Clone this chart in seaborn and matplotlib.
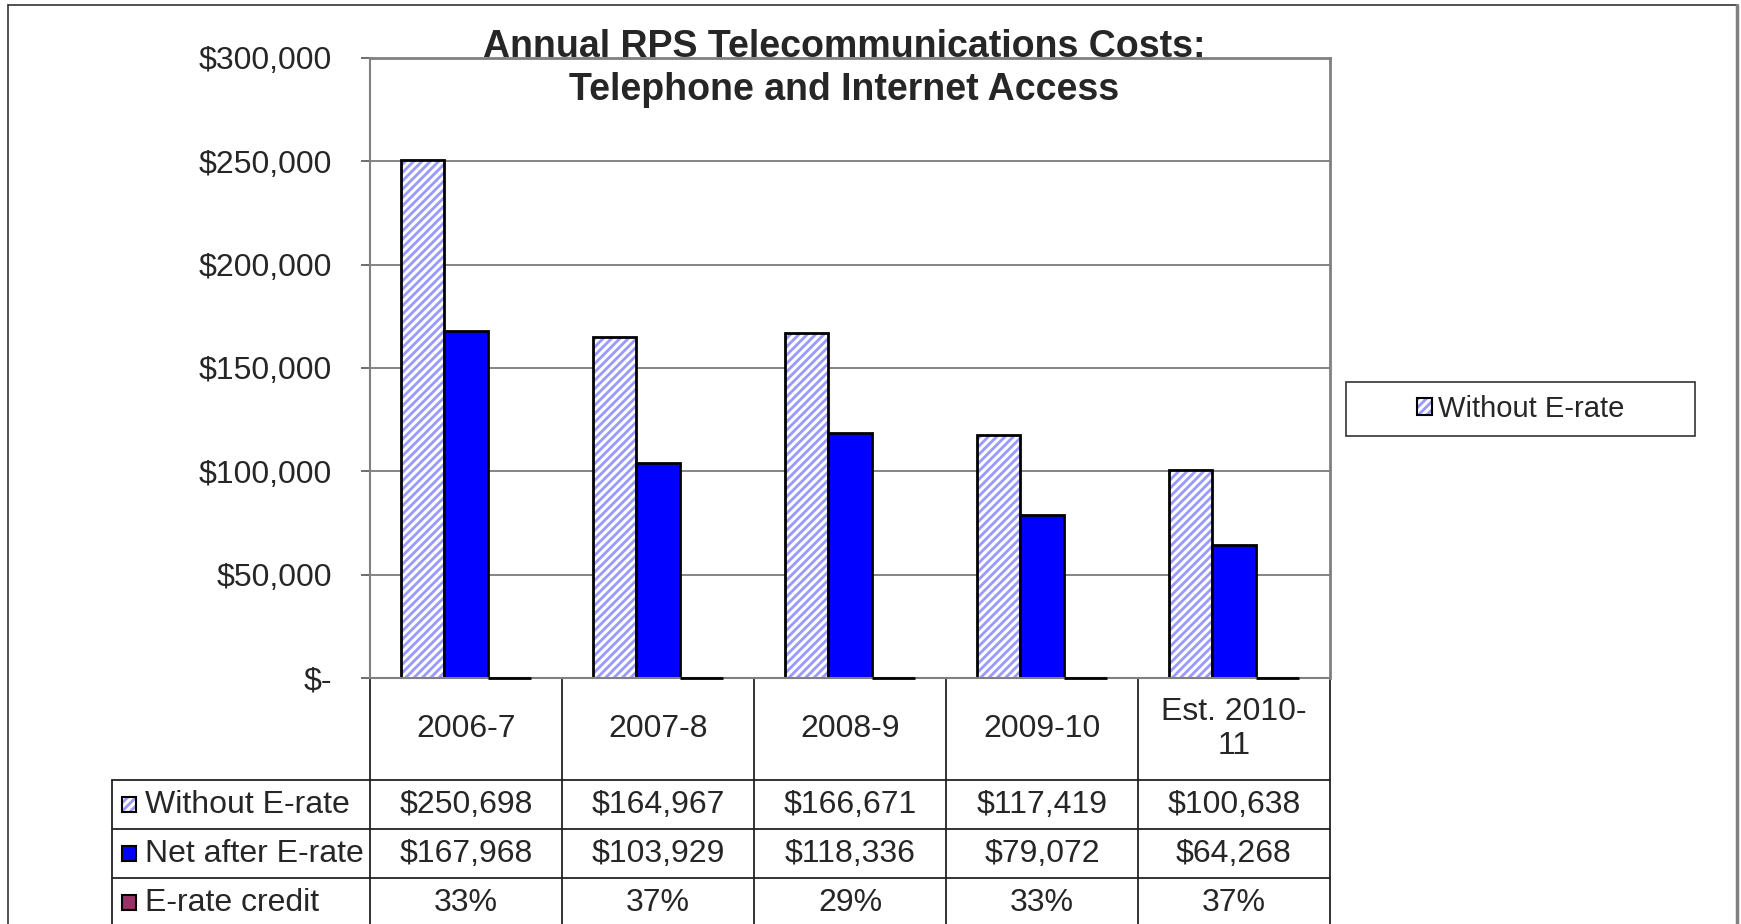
import pandas as pd
import matplotlib
matplotlib.use("Agg")
import matplotlib.pyplot as plt
import matplotlib.transforms as mtransforms
from matplotlib.patches import Rectangle
from matplotlib.lines import Line2D
import seaborn as sns

# Data
years = ["2006-7", "2007-8", "2008-9", "2009-10", "Est. 2010-\n11"]
without_erate = [250698, 164967, 166671, 117419, 100638]
net_after_erate = [167968, 103929, 118336, 79072, 64268]
erate_credit = [0.33, 0.37, 0.29, 0.33, 0.37]
series_names = ["Without E-rate", "Net after E-rate", "E-rate credit"]

HATCH_BLUE = "#9999FF"
BLUE = "#0000FF"
MAROON = "#993366"

sns.set_theme(style="white")
plt.rcParams["font.family"] = ["Liberation Sans", "DejaVu Sans"]
plt.rcParams["hatch.linewidth"] = 2.0

df = pd.DataFrame({
    "year": years * 3,
    "series": [series_names[0]] * 5 + [series_names[1]] * 5 + [series_names[2]] * 5,
    "value": without_erate + net_after_erate + erate_credit,
})

fig = plt.figure(figsize=(17.41, 9.24), dpi=100)
ax = fig.add_axes([0.2125, 0.2662, 0.5514, 0.6713])

sns.barplot(data=df, x="year", y="value", hue="series", hue_order=series_names,
            palette=["white", BLUE, MAROON], width=0.675, gap=0, saturation=1,
            edgecolor="black", linewidth=2, legend=False, ax=ax)

# hatched series: blue stripes on white, black outline drawn on top
for p in ax.containers[0]:
    p.set_hatch("////")
    p.set_edgecolor(HATCH_BLUE)
    p.set_linewidth(0)
    ax.add_patch(Rectangle(p.get_xy(), p.get_width(), p.get_height(),
                           fill=False, edgecolor="black", linewidth=2, zorder=p.get_zorder() + 0.1))

# the percentage series is ~0 on this scale: keep its outline visible over the axis line
for p in ax.containers[2]:
    p.set_clip_on(False)
    p.set_zorder(3)

ax.set_xlim(-0.5, len(years) - 0.5)
ax.set_ylim(0, 300000)
ax.set_yticks(range(0, 300001, 50000))
ax.set_yticklabels([f"${v:,.0f}" if v else "$-" for v in range(0, 300001, 50000)], fontsize=23)
ax.set_xticks([])
ax.set_xlabel("")
ax.set_ylabel("")
ax.set_axisbelow(True)
ax.yaxis.grid(True, color="#707070", linewidth=1.2)
ax.tick_params(axis="y", left=True, length=6.5, width=1.2, color="#555555", pad=21)
for side in ["left", "right", "top", "bottom"]:
    ax.spines[side].set_color("#808080")
    ax.spines[side].set_linewidth(2 if side in ("right", "top") else 1.5)

# title
fig.text(0.4848, 1 - 57 / 924, "Annual RPS Telecommunications Costs:", ha="center", va="baseline",
         fontsize=27, fontweight="bold")
fig.text(0.4848, 1 - 100.5 / 924, "Telephone and Internet Access", ha="center", va="baseline",
         fontsize=27, fontweight="bold")

# data table below the axes
tr = ax.get_xaxis_transform()
trf = mtransforms.blended_transform_factory(fig.transFigure, ax.transAxes)
row_edges = [0, -0.1644, -0.2434, -0.3224, -0.45]
lab_left = 112 / 1741
line_kw = dict(color="#222222", linewidth=1.3, clip_on=False)

for i in range(len(years) + 1):
    ax.add_line(Line2D([i - 0.5, i - 0.5], [0, row_edges[-1]], transform=tr, **line_kw))
for y in row_edges[1:4]:
    fig.add_artist(Line2D([lab_left, 0.7639], [y, y], transform=trf, **line_kw))
fig.add_artist(Line2D([lab_left, lab_left], [row_edges[1], row_edges[-1]], transform=trf, **line_kw))

for i, yr in enumerate(years):
    ax.text(i, (row_edges[0] + row_edges[1]) / 2, yr, transform=tr, ha="center", va="center",
            fontsize=23, linespacing=1.2)

rows = [
    [f"${v:,.0f}" for v in without_erate],
    [f"${v:,.0f}" for v in net_after_erate],
    [f"{v:.0%}" for v in erate_credit],
]
row_centers = [(row_edges[k] + row_edges[k + 1]) / 2 for k in range(1, 4)]
row_centers[2] = (row_edges[3] + (-0.4014)) / 2
key_faces = ["white", BLUE, MAROON]
for k, (name, vals, yc) in enumerate(zip(series_names, rows, row_centers)):
    for i, v in enumerate(vals):
        ax.text(i, yc, v, transform=tr, ha="center", va="center", fontsize=23)
    fig.text(145 / 1741, 0, name, transform=trf, ha="left", va="center", fontsize=23).set_y(yc)
    box = ((122 / 1741, yc - 0.0115), 14 / 1741, 0.023)
    if k == 0:
        fig.add_artist(Rectangle(*box, transform=trf, facecolor="white", edgecolor=HATCH_BLUE,
                                 hatch="////", linewidth=0, clip_on=False))
        fig.add_artist(Rectangle(*box, transform=trf, fill=False, edgecolor="black",
                                 linewidth=1.5, clip_on=False))
    else:
        fig.add_artist(Rectangle(*box, transform=trf, facecolor=key_faces[k], edgecolor="black",
                                 linewidth=1.5, clip_on=False))

# legend (only the first series, like the original)
fig.add_artist(Rectangle((0.7731, 0.5281), 0.2005, 0.0585, transform=fig.transFigure,
                         fill=False, edgecolor="#333333", linewidth=1.2))
h_fill = Rectangle((0, 0), 1, 1, facecolor="white", edgecolor=HATCH_BLUE, hatch="////", linewidth=0)
h_edge = Rectangle((0, 0), 1, 1, fill=False, edgecolor="black", linewidth=1.5)
fig.legend([(h_fill, h_edge)], ["Without E-rate"], loc="center", bbox_to_anchor=(0.8734, 0.5574),
           bbox_transform=fig.transFigure, frameon=False, fontsize=21,
           handlelength=0.5, handleheight=0.5, handletextpad=0.2)

# outer chart frame
fig.add_artist(Line2D([8 / 1741, 8 / 1741], [-0.1, 1 - 5 / 924], transform=fig.transFigure,
                      color="#333333", linewidth=1.2))
fig.add_artist(Line2D([8 / 1741, 1737 / 1741], [1 - 5 / 924, 1 - 5 / 924], transform=fig.transFigure,
                      color="#333333", linewidth=1.2))
fig.add_artist(Line2D([1737 / 1741, 1737 / 1741], [-0.1, 1 - 5 / 924], transform=fig.transFigure,
                      color="#808080", linewidth=2.5))

fig.savefig("out.png", dpi=100, facecolor="white")
